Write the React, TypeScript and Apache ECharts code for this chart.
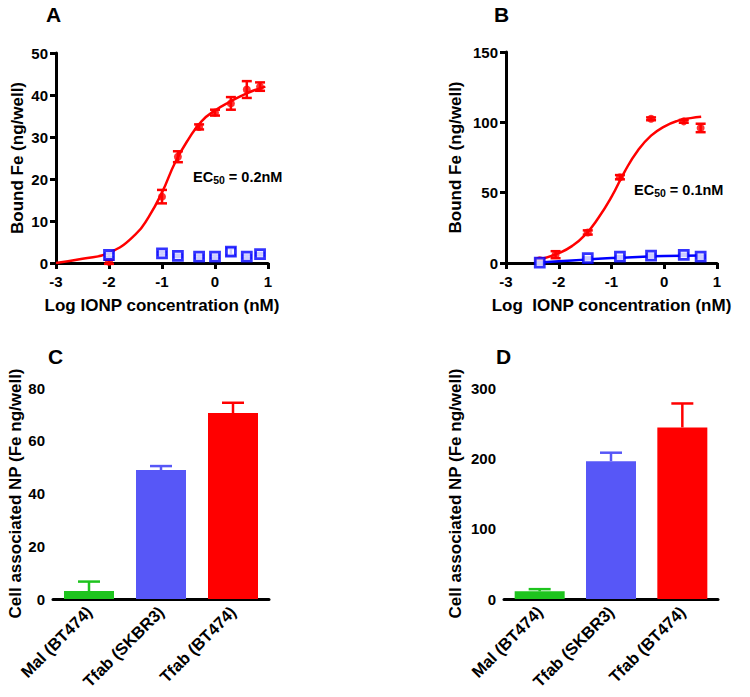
import React, { useEffect, useRef } from "react";
import * as echarts from "echarts";

const FONT = 'Arial, "Liberation Sans", Helvetica, sans-serif';

// ---- Panel A (Log IONP concentration vs Bound Fe)
const A_X = [-2, -1, -0.7, -0.3, 0, 0.3, 0.6, 0.85];
const A_RED = [0.3, 15.8, 25.3, 32.4, 35.8, 38.0, 41.3, 42.0];
const A_RED_ERR = [0.5, 1.6, 1.3, 0.6, 0.7, 1.5, 2.0, 1.0];
const A_BLUE = [1.9, 2.3, 1.7, 1.5, 1.5, 2.7, 1.5, 2.1];
const A_BLUE_ERR = [0.4, 0.3, 0.3, 0.3, 0.3, 0.8, 0.3, 0.3];
const A_FIT_X = [-3, -2.5, -2, -1.5, -1.25, -1, -0.75, -0.5, -0.25, 0, 0.3, 0.6, 0.95];
const A_FIT_Y = [0, 1.0, 2.4, 6.8, 11.0, 16.8, 24.0, 29.5, 33.8, 36.3, 38.5, 40.4, 42.0];

// ---- Panel B
const B_RED_X = [-2.36, -2.06, -1.45, -0.84, -0.25, 0.37, 0.69];
const B_RED = [2.0, 5.9, 21.7, 61.0, 102.5, 100.7, 96.0];
const B_RED_ERR = [1.0, 2.5, 1.5, 1.5, 1.0, 1.0, 3.0];
const B_BLUE_X = [-2.36, -1.45, -0.84, -0.25, 0.37, 0.69];
const B_BLUE = [0.3, 3.5, 4.5, 5.3, 5.8, 4.5];
const B_BLUE_ERR = [0.5, 0.5, 0.5, 0.8, 0.8, 0.8];
const B_FIT_X = [-2.36, -2.0, -1.75, -1.5, -1.25, -1.0, -0.75, -0.5, -0.25, 0, 0.25, 0.5, 0.7];
const B_FIT_Y = [2.5, 7, 12, 20, 32, 47, 65, 80, 90.5, 97, 101, 103, 104];
const B_BFIT_X = [-2.36, -2.0, -1.5, -1.0, -0.5, 0, 0.7];
const B_BFIT_Y = [0.3, 1.2, 2.4, 3.5, 4.3, 4.9, 5.4];

// ---- Panels C & D (bars)
const CATS = ["Mal (BT474)", "Tfab (SKBR3)", "Tfab (BT474)"];
const BAR_COLORS = ["#1ec41e", "#5757f7", "#ff0000"];
const C_VALS = [3.0, 48.9, 70.5];
const C_ERR = [3.6, 1.5, 3.9];
const D_VALS = [11, 196, 244];
const D_ERR = [3, 12, 34];

const RED = "#ff0000";
const BLUE = "#0000ff";

function errorBars(color: string, capHalf: number, upOnly: boolean) {
  return (params: any, api: any) => {
    const x = api.value(0);
    const y = api.value(1);
    const e = api.value(2);
    const top = api.coord([x, y + e]);
    const bot = api.coord([x, upOnly ? y : y - e]);
    const style = { stroke: color, lineWidth: 2.5 };
    const children: any[] = [
      { type: "line", shape: { x1: top[0], y1: top[1], x2: bot[0], y2: bot[1] }, style },
      { type: "line", shape: { x1: top[0] - capHalf, y1: top[1], x2: top[0] + capHalf, y2: top[1] }, style },
    ];
    if (!upOnly) {
      children.push({ type: "line", shape: { x1: bot[0] - capHalf, y1: bot[1], x2: bot[0] + capHalf, y2: bot[1] }, style });
    }
    return { type: "group", children };
  };
}

const axisLine = { onZero: false, lineStyle: { color: "#000", width: 3 } };
const axisTick = { length: 6, lineStyle: { color: "#000", width: 3 } };
const tickLabel = { color: "#000", fontWeight: "bold", fontSize: 15, fontFamily: FONT };
const nameStyle = { color: "#000", fontWeight: "bold", fontSize: 17, fontFamily: FONT };

function valueX(gridIndex: number, name: string) {
  return {
    type: "value",
    gridIndex,
    min: -3,
    max: 1,
    interval: 1,
    name,
    nameLocation: "middle",
    nameGap: 34,
    nameTextStyle: nameStyle,
    axisLine,
    axisTick,
    axisLabel: { ...tickLabel, margin: 11 },
    splitLine: { show: false },
  };
}

function valueY(gridIndex: number, max: number, interval: number, name: string, gap: number) {
  return {
    type: "value",
    gridIndex,
    min: 0,
    max,
    interval,
    name,
    nameLocation: "middle",
    nameGap: gap,
    nameRotate: 90,
    nameTextStyle: nameStyle,
    axisLine,
    axisTick,
    axisLabel: { ...tickLabel, margin: 8 },
    splitLine: { show: false },
  };
}

function catX(gridIndex: number) {
  return {
    type: "category",
    gridIndex,
    data: CATS,
    axisLine,
    axisTick: { ...axisTick, alignWithLabel: true },
    axisLabel: { ...tickLabel, fontSize: 16.5, rotate: 45, margin: 10 },
    splitLine: { show: false },
  };
}

function scatterRed(xi: number, xs: number[], ys: number[]) {
  return {
    type: "scatter",
    xAxisIndex: xi,
    yAxisIndex: xi,
    data: xs.map((x, i) => [x, ys[i]]),
    symbol: "circle",
    symbolSize: 8,
    itemStyle: { color: RED },
    z: 4,
  };
}

function scatterBlue(xi: number, xs: number[], ys: number[]) {
  return {
    type: "scatter",
    xAxisIndex: xi,
    yAxisIndex: xi,
    data: xs.map((x, i) => [x, ys[i]]),
    symbol: "rect",
    symbolSize: 9,
    itemStyle: { color: "#fff", borderColor: BLUE, borderWidth: 2.8 },
    z: 6,
  };
}

function errSeries(xi: number, xs: any[], ys: number[], es: number[], color: string, capHalf: number, upOnly: boolean, z: number) {
  return {
    type: "custom",
    xAxisIndex: xi,
    yAxisIndex: xi,
    data: xs.map((x, i) => [x, ys[i], es[i]]),
    renderItem: errorBars(color, capHalf, upOnly),
    z,
  };
}

function fitLine(xi: number, xs: number[], ys: number[], color: string, z: number) {
  return {
    type: "line",
    xAxisIndex: xi,
    yAxisIndex: xi,
    data: xs.map((x, i) => [x, ys[i]]),
    smooth: 0.5,
    showSymbol: false,
    symbol: "none",
    lineStyle: { color, width: 2.5 },
    z,
  };
}

function ecText(x: number, y: number, val: string) {
  return {
    type: "text",
    x,
    y,
    style: {
      text: `{a|EC}{b|50}{a| = ${val}}`,
      rich: {
        a: { fontSize: 14.5, fontWeight: "bold", fontFamily: FONT, color: "#000" },
        b: { fontSize: 10.5, fontWeight: "bold", fontFamily: FONT, color: "#000", padding: [6, 0, 0, 0] },
      },
    },
  };
}

function letter(x: number, y: number, t: string) {
  return {
    type: "text",
    x,
    y,
    style: { text: t, fontSize: 21, fontWeight: "bold", fontFamily: FONT, fill: "#000" },
  };
}

export default function App() {
  const ref = useRef<HTMLDivElement>(null);
  useEffect(() => {
    if (!ref.current) return;
    const chart = echarts.init(ref.current, null, { renderer: "svg" });
    const option: any = {
      animation: false,
      backgroundColor: "#fff",
      grid: [
        { left: 56, top: 53, width: 212, height: 210 },
        { left: 506, top: 52, width: 211, height: 211 },
        { left: 53, top: 388, width: 216, height: 211 },
        { left: 504, top: 388, width: 214, height: 211 },
      ],
      xAxis: [
        valueX(0, "Log IONP concentration (nM)"),
        valueX(1, "Log  IONP concentration (nM)"),
        catX(2),
        catX(3),
      ],
      yAxis: [
        valueY(0, 50, 10, "Bound Fe (ng/well)", 30),
        valueY(1, 150, 50, "Bound Fe (ng/well)", 42),
        valueY(2, 80, 20, "Cell associated NP (Fe ng/well)", 27),
        valueY(3, 300, 100, "Cell associated NP (Fe ng/well)", 40),
      ],
      series: [
        // A
        fitLine(0, A_FIT_X, A_FIT_Y, RED, 3),
        errSeries(0, A_X, A_RED, A_RED_ERR, RED, 5, false, 4),
        scatterRed(0, A_X, A_RED),
        errSeries(0, A_X, A_BLUE, A_BLUE_ERR, BLUE, 5, false, 5),
        scatterBlue(0, A_X, A_BLUE),
        // B
        fitLine(1, B_FIT_X, B_FIT_Y, RED, 3),
        fitLine(1, B_BFIT_X, B_BFIT_Y, BLUE, 3),
        errSeries(1, B_RED_X, B_RED, B_RED_ERR, RED, 5, false, 4),
        scatterRed(1, B_RED_X, B_RED),
        errSeries(1, B_BLUE_X, B_BLUE, B_BLUE_ERR, BLUE, 5, false, 5),
        scatterBlue(1, B_BLUE_X, B_BLUE),
        // C
        {
          type: "bar",
          xAxisIndex: 2,
          yAxisIndex: 2,
          barWidth: 50,
          data: C_VALS.map((v, i) => ({ value: v, itemStyle: { color: BAR_COLORS[i] } })),
          z: 2,
        },
        {
          type: "custom",
          xAxisIndex: 2,
          yAxisIndex: 2,
          data: C_VALS.map((v, i) => [i, v, C_ERR[i]]),
          renderItem: (p: any, api: any) => errorBars(BAR_COLORS[api.value(0)], 11, true)(p, api),
          z: 3,
        },
        // D
        {
          type: "bar",
          xAxisIndex: 3,
          yAxisIndex: 3,
          barWidth: 50,
          data: D_VALS.map((v, i) => ({ value: v, itemStyle: { color: BAR_COLORS[i] } })),
          z: 2,
        },
        {
          type: "custom",
          xAxisIndex: 3,
          yAxisIndex: 3,
          data: D_VALS.map((v, i) => [i, v, D_ERR[i]]),
          renderItem: (p: any, api: any) => errorBars(BAR_COLORS[api.value(0)], 11, true)(p, api),
          z: 3,
        },
      ],
      graphic: [
        letter(46, 4, "A"),
        letter(494, 4, "B"),
        letter(48, 346, "C"),
        letter(496, 346, "D"),
        ecText(193, 168, "0.2nM"),
        ecText(634, 181, "0.1nM"),
      ],
    };
    chart.setOption(option);
    return () => chart.dispose();
  }, []);
  return (
    <div
      ref={ref}
      style={{ position: "absolute", left: 0, top: 0, width: 750, height: 697, background: "#fff" }}
    />
  );
}
